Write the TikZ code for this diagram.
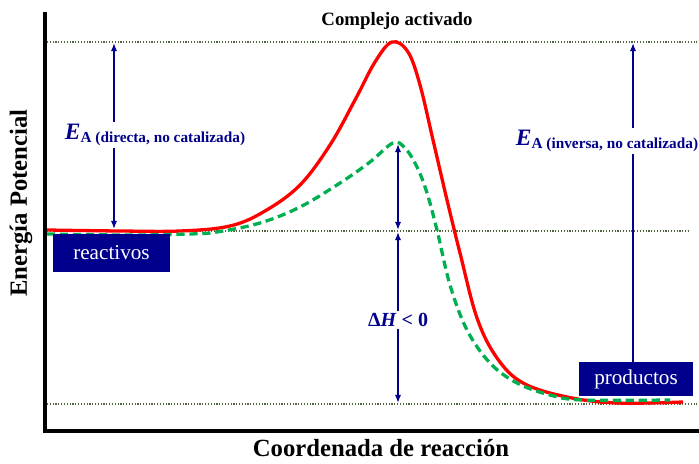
\documentclass[tikz,border=0pt]{standalone}
\usepackage{fontspec}
\setmainfont{Liberation Serif}
\usetikzlibrary{arrows.meta}
\definecolor{marino}{RGB}{0,0,140}
\definecolor{rojo}{RGB}{255,0,0}
\definecolor{verde}{RGB}{0,176,80}
\definecolor{guia}{RGB}{80,100,60}

\begin{document}
\begin{tikzpicture}[x=0.85pt,y=-0.85pt]
			\tikzstyle{every node}+=[inner sep=2pt]
			\tikzstyle{nivel}=[guia, line width=1pt, dash pattern=on 1pt off 1.4pt]
			\tikzstyle{flecha}=[marino, line width=2pt, -{Latex[length=7pt,width=5.5pt]}]
			\tikzstyle{dobleflecha}=[flecha, {Latex[length=7pt,width=5.5pt]}-{Latex[length=7pt,width=5.5pt]}]
			\tikzstyle{caja}=[fill=marino, text=white, font=\fontsize{18}{18}\selectfont]
			\tikzstyle{rotulo}=[fill=white, text=marino, font=\bfseries]
			\useasboundingbox (0,0) rectangle (699,463);
			% niveles de energia
			\draw [nivel] (47,42) -- (697,42);
			\draw [nivel] (47,231) -- (690,231);
			\draw [nivel] (47,404) -- (697,404);
			% ejes
			\draw [black, line width=2.8pt] (45,12) -- (45,431) -- (699,431);
			\node (eje y) [rotate=90, font=\fontsize{21}{21}\selectfont\bfseries] at (21,203) {Energía Potencial};
			\node (eje x) [font=\fontsize{21}{21}\selectfont\bfseries] at (381,448) {Coordenada de reacción};
			\node (complejo) [font=\fontsize{16}{16}\selectfont\bfseries] at (397,21) {Complejo activado};
			% perfiles
			\draw [rojo, line width=2.8pt] plot [smooth, tension=0.6] coordinates {(47,230) (120,231) (180,231) (230,226) (265,211) (300,185) (330,145) (355,100) (375,62) (392,42) (408,52) (420,85) (433,140) (447,200) (460,253) (477,318) (497,358) (523,383) (567,397) (617,403) (683,402)};
			\draw [verde, line width=2.8pt, dash pattern=on 7pt off 4pt] plot [smooth, tension=0.6] coordinates {(47,234) (130,235) (190,234) (217,232) (260,223) (300,207) (340,183) (370,162) (393,143) (405,148) (417,167) (427,193) (437,230) (450,285) (467,330) (490,363) (517,383) (550,395) (583,400) (670,400)};
			% cajas
			\node (reactivos) [caja, minimum width=99pt, minimum height=32pt] at (111.5,253) {reactivos};
			\node (productos) [caja, minimum width=97pt, minimum height=29pt] at (636,379) {productos};
			% flechas
			\coordinate (ea dir top) at (114,43);
			\coordinate (ea dir bot) at (114,229);
			\coordinate (ea inv top) at (633,43);
			\coordinate (pico cat) at (398,144);
			\coordinate (nivel r) at (398,230);
			\coordinate (nivel r2) at (398,232);
			\coordinate (nivel p) at (398,403);
			\draw [dobleflecha] (ea dir top) -- (ea dir bot);
			\draw [flecha] (productos.north -| ea inv top) -- (ea inv top);
			\draw [dobleflecha] (pico cat) -- (nivel r);
			\draw [dobleflecha] (nivel r2) -- (nivel p);
			\node (ea dir) [rotulo] at (155,135) {{\fontsize{20}{20}\selectfont\itshape E}\raisebox{-3pt}{\fontsize{13}{13}\selectfont A (directa, no catalizada)}};
			\node (ea inv) [rotulo] at (607,141) {{\fontsize{20}{20}\selectfont\itshape E}\raisebox{-3pt}{\fontsize{13}{13}\selectfont A (inversa, no catalizada)}};
			\node (dh) [rotulo, font=\fontsize{17}{17}\selectfont\bfseries] at (398,320) {Δ\textit{H} < 0};
\end{tikzpicture}
\end{document}
